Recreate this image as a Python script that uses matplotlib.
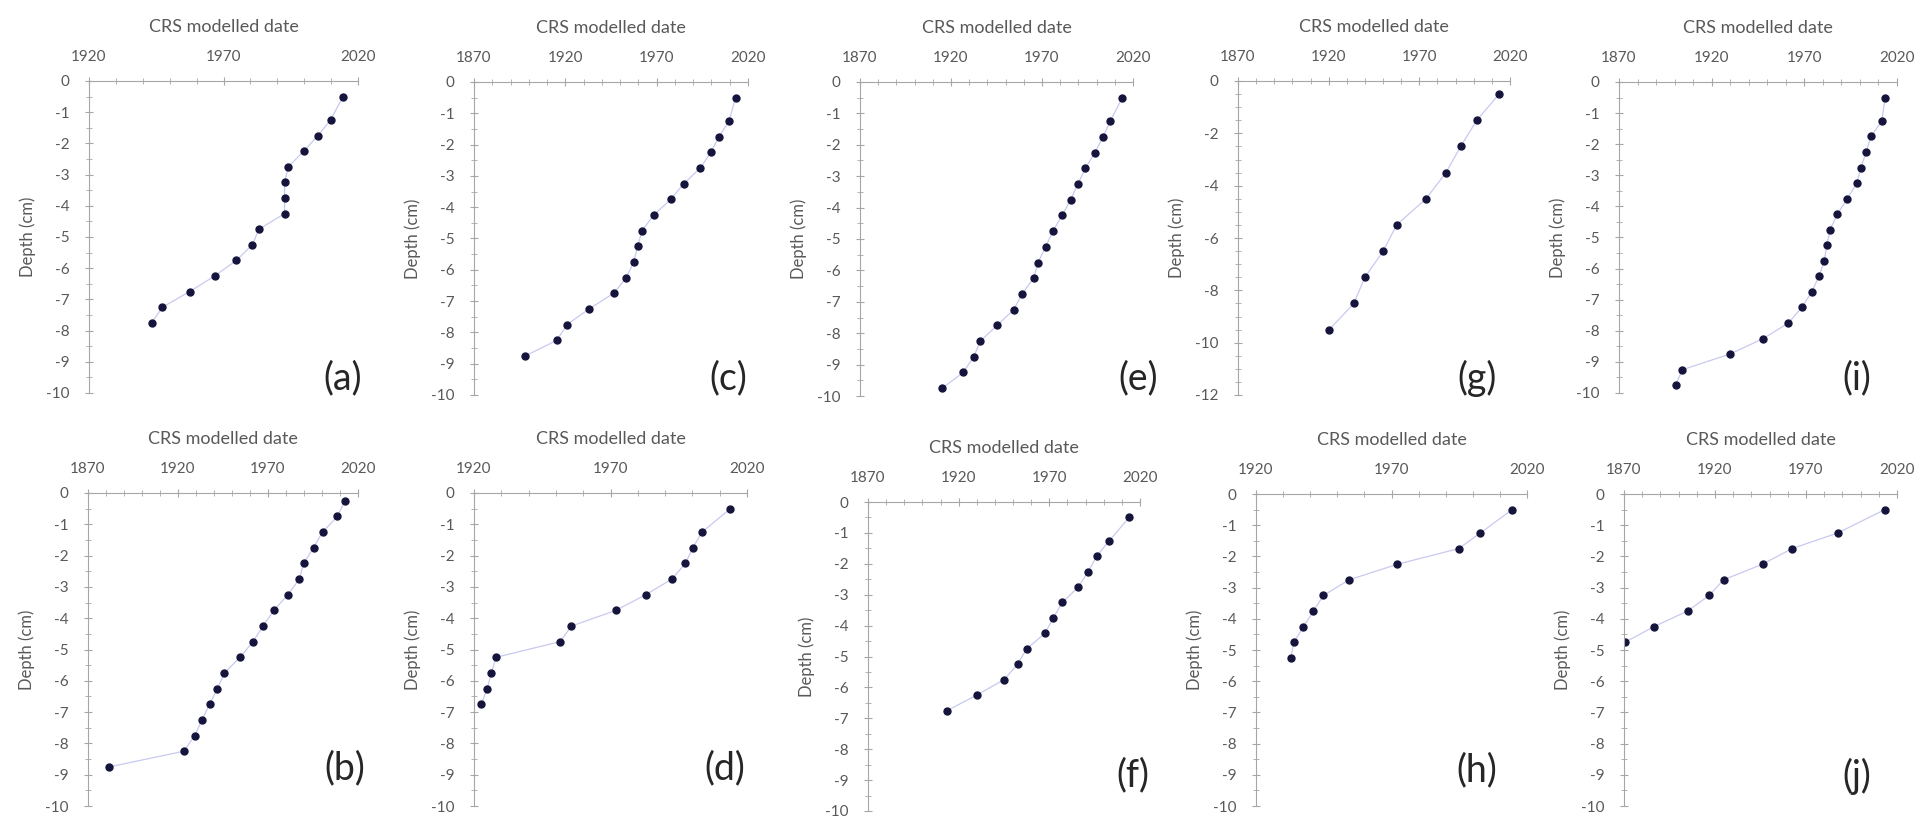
import matplotlib
matplotlib.use("Agg")
import matplotlib.pyplot as plt
from matplotlib.ticker import FixedLocator, MultipleLocator

plt.rcParams["font.family"] = ["Lato", "DejaVu Sans"]
plt.rcParams["axes.unicode_minus"] = False

# Depth (cm) and CRS modelled date for each core
depth_a = [-0.5, -1.25, -1.75, -2.25, -2.75, -3.25, -3.75, -4.25, -4.75, -5.25, -5.75, -6.25, -6.75, -7.25, -7.75]
date_a = [2014.4, 2009.8, 2005.1, 1999.8, 1994.1, 1992.7, 1992.7, 1992.7, 1983.2, 1980.7, 1974.8, 1966.7, 1957.4, 1947.3, 1943.3]

depth_b = [-0.25, -0.75, -1.25, -1.75, -2.25, -2.75, -3.25, -3.75, -4.25, -4.75, -5.25, -5.75, -6.25, -6.75, -7.25, -7.75, -8.25, -8.75]
date_b = [2012.8, 2008.5, 2000.3, 1995.3, 1989.8, 1987.4, 1981.0, 1973.3, 1967.2, 1961.7, 1954.4, 1945.8, 1941.9, 1937.5, 1933.3, 1929.3, 1923.2, 1881.9]

depth_c = [-0.5, -1.25, -1.75, -2.25, -2.75, -3.25, -3.75, -4.25, -4.75, -5.25, -5.75, -6.25, -6.75, -7.25, -7.75, -8.25, -8.75]
date_c = [2013.2, 2009.6, 2004.1, 1999.6, 1993.9, 1984.8, 1977.7, 1968.4, 1962.0, 1959.6, 1957.4, 1953.4, 1946.5, 1933.0, 1920.9, 1915.4, 1898.1]

depth_d = [-0.5, -1.25, -1.75, -2.25, -2.75, -3.25, -3.75, -4.25, -4.75, -5.25, -5.75, -6.25, -6.75]
date_d = [2013.9, 2003.5, 2000.2, 1997.4, 1992.5, 1982.9, 1972.0, 1955.7, 1951.5, 1928.0, 1926.4, 1924.8, 1922.7]

depth_e = [-0.5, -1.25, -1.75, -2.25, -2.75, -3.25, -3.75, -4.25, -4.75, -5.25, -5.75, -6.25, -6.75, -7.25, -7.75, -8.25, -8.75, -9.25, -9.75]
date_e = [2014.1, 2007.5, 2003.5, 1999.1, 1993.8, 1989.7, 1985.7, 1981.0, 1976.0, 1972.0, 1967.8, 1965.4, 1959.0, 1954.5, 1945.3, 1936.2, 1932.5, 1926.7, 1915.2]

depth_f = [-0.5, -1.25, -1.75, -2.25, -2.75, -3.25, -3.75, -4.25, -4.75, -5.25, -5.75, -6.25, -6.75]
date_f = [2014.0, 2003.1, 1996.1, 1991.5, 1986.0, 1977.2, 1972.2, 1967.6, 1957.5, 1952.5, 1945.0, 1929.9, 1913.6]

depth_g = [-0.5, -1.5, -2.5, -3.5, -4.5, -5.5, -6.5, -7.5, -8.5, -9.5]
date_g = [2014.0, 2001.7, 1992.8, 1984.7, 1973.7, 1957.5, 1950.1, 1940.0, 1933.9, 1920.3]

depth_h = [-0.5, -1.25, -1.75, -2.25, -2.75, -3.25, -3.75, -4.25, -4.75, -5.25]
date_h = [2014.5, 2002.8, 1994.8, 1972.2, 1954.4, 1944.9, 1941.2, 1937.5, 1934.0, 1932.8]

depth_i = [-0.5, -1.25, -1.75, -2.25, -2.75, -3.25, -3.75, -4.25, -4.75, -5.25, -5.75, -6.25, -6.75, -7.25, -7.75, -8.25, -8.75, -9.25, -9.75]
date_i = [2013.6, 2011.8, 2006.0, 2003.3, 2000.6, 1998.3, 1993.2, 1987.8, 1983.9, 1982.1, 1980.8, 1977.9, 1974.0, 1968.6, 1961.4, 1947.8, 1929.8, 1904.2, 1900.5]

depth_j = [-0.5, -1.25, -1.75, -2.25, -2.75, -3.25, -3.75, -4.25, -4.75]
date_j = [2013.3, 1987.4, 1962.3, 1946.1, 1924.7, 1916.8, 1905.0, 1886.5, 1870.6]

W, H = 1921, 826

# panel: data, letter, axes box in px (left, right, top, bottom), letter centre in px, x range, y range
panels = [
    (date_a, depth_a, "(a)", (89, 358, 81, 393), (343, 378), (1920, 2020), (-10, 0)),
    (date_c, depth_c, "(c)", (474, 748, 82, 395), (728, 378), (1870, 2020), (-10, 0)),
    (date_e, depth_e, "(e)", (860, 1133, 82, 396), (1138, 378), (1870, 2020), (-10, 0)),
    (date_g, depth_g, "(g)", (1238, 1510, 81, 395), (1477, 378), (1870, 2020), (-12, 0)),
    (date_i, depth_i, "(i)", (1619, 1897, 82, 393), (1857, 378), (1870, 2020), (-10, 0)),
    (date_b, depth_b, "(b)", (88, 358, 493, 806), (345, 768), (1870, 2020), (-10, 0)),
    (date_d, depth_d, "(d)", (474, 747, 493, 806), (725, 768), (1920, 2020), (-10, 0)),
    (date_f, depth_f, "(f)", (868, 1140, 502, 811), (1133, 775), (1870, 2020), (-10, 0)),
    (date_h, depth_h, "(h)", (1256, 1527, 494, 806), (1477, 770), (1920, 2020), (-10, 0)),
    (date_j, depth_j, "(j)", (1624, 1897, 494, 806), (1857, 776), (1870, 2020), (-10, 0)),
]

fig = plt.figure(figsize=(W / 100, H / 100), dpi=100)
grey = "#595959"
axis_col = "#a6a6a6"

for x, y, letter, (l, r, t, b), (lx, ly), xr, yr in panels:
    ax = fig.add_axes([l / W, 1 - b / H, (r - l) / W, (b - t) / H])
    ax.plot(x, y, color="#c9c9f0", lw=0.9, zorder=1)
    ax.plot(x, y, ls="none", marker="o", ms=5, color="#14143c", zorder=2)
    ax.set_xlim(*xr)
    ax.set_ylim(*yr)
    ax.xaxis.set_major_locator(FixedLocator(range(xr[0], xr[1] + 1, 50)))
    ax.xaxis.set_minor_locator(FixedLocator(range(xr[0], xr[1] + 1, 10)))
    ax.yaxis.set_major_locator(MultipleLocator(2 if yr[0] == -12 else 1))
    ax.yaxis.set_minor_locator(MultipleLocator(0.5))
    ax.xaxis.tick_top()
    ax.xaxis.set_label_position("top")
    for s in ["right", "bottom"]:
        ax.spines[s].set_visible(False)
    for s in ["left", "top"]:
        ax.spines[s].set_color(axis_col)
        ax.spines[s].set_linewidth(0.8)
    ax.tick_params(which="major", direction="inout", length=6, width=0.8, color=axis_col,
                   labelsize=11, labelcolor=grey)
    ax.tick_params(which="minor", direction="inout", length=4, width=0.6, color=axis_col)
    ax.tick_params(axis="x", pad=9)
    ax.tick_params(axis="y", pad=11)
    ax.set_xlabel("CRS modelled date", fontsize=13, color=grey, labelpad=13)
    ax.set_ylabel("Depth (cm)", fontsize=12, color=grey, labelpad=7)
    ax.patch.set_alpha(0)
    fig.text(lx / W, 1 - ly / H, letter, fontsize=27, color="#262626", ha="center", va="center")

fig.savefig("out.png", dpi=100)
